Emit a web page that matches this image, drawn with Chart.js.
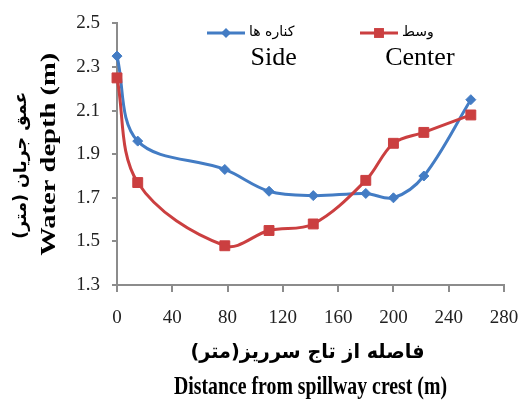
<!DOCTYPE html>
<html lang="fa">
<head>
<meta charset="UTF-8">
<title>عمق جریان</title>
<script src="https://cdn.jsdelivr.net/npm/chart.js"></script>
<style>
  body { margin: 0; background: #fff; }
  #wrap { width: 519px; height: 409px; }
</style>
</head>
<body>
<div id="wrap"><canvas id="depthChart"></canvas></div>
<script>
// فاصله از تاج سرریز (m)
const distance = [0, 15, 78, 110, 142, 180, 200, 222, 256];
// عمق جریان در کناره ها و وسط کانال (m)
const sideDepth = [2.35, 1.96, 1.83, 1.73, 1.71, 1.72, 1.70, 1.80, 2.15];
const centerDepth = [2.25, 1.77, 1.48, 1.55, 1.58, 1.78, 1.95, 2.00, 2.08];

const xTicks = [0, 40, 80, 120, 160, 200, 240, 280];
const yTicks = [1.3, 1.5, 1.7, 1.9, 2.1, 2.3, 2.5];

const seriesFa = ['کناره ها', 'وسط'];
const seriesEn = ['Side', 'Center'];
const xTitle = ['فاصله از تاج سرریز(متر)', 'Distance from spillway crest (m)'];
const yTitle = ['عمق جریان (متر)', 'Water depth (m)'];

const blue = '#437cc4';
const red = '#cb3f40';
const axisGray = '#8c8c8c';
const serif = "'Liberation Serif', 'Times New Roman', serif";
const persian = "'DejaVu Sans', sans-serif";

function toPoints(ys) {
    return distance.map((x, i) => ({ x: x, y: ys[i] }));
}

// draws text centred on (x, y), stretched/squeezed along its own direction to a given length
function drawFitted(ctx, text, x, y, length, angle, rtl) {
    ctx.save();
    ctx.translate(x, y);
    ctx.rotate(angle);
    ctx.direction = rtl ? 'rtl' : 'ltr';
    ctx.textAlign = 'center';
    ctx.textBaseline = 'middle';
    ctx.scale(length / ctx.measureText(text).width, 1);
    ctx.fillText(text, 0, 0);
    ctx.restore();
}

function drawMarker(ctx, style, x, y, r) {
    ctx.beginPath();
    if (style === 'rectRot') {
        ctx.moveTo(x, y - r);
        ctx.lineTo(x + r, y);
        ctx.lineTo(x, y + r);
        ctx.lineTo(x - r, y);
        ctx.closePath();
    } else {
        const s = r * Math.SQRT1_2;
        ctx.rect(x - s, y - s, 2 * s, 2 * s);
    }
    ctx.fill();
}

// عنوان محورها، دو سطر فارسی و انگلیسی
const axisTitles = {
    id: 'axisTitles',
    afterDraw(chart) {
        const ctx = chart.ctx;
        const a = chart.chartArea;
        const cx = (a.left + a.right) / 2;
        const cy = (a.top + a.bottom) / 2;
        ctx.save();
        ctx.fillStyle = '#000';
        ctx.font = 'bold 20px ' + persian;
        drawFitted(ctx, xTitle[0], cx - 3, 353, 234, 0, true);
        ctx.font = 'bold 26px ' + serif;
        drawFitted(ctx, xTitle[1], cx, 387, 273, 0, false);
        ctx.font = 'bold 17px ' + persian;
        drawFitted(ctx, yTitle[0], 22, cy + 11, 147, -Math.PI / 2, true);
        ctx.font = 'bold 22px ' + serif;
        drawFitted(ctx, yTitle[1], 49, cy, 203, -Math.PI / 2, false);
        ctx.restore();
    }
};

// راهنمای سری ها بالای نمودار
const seriesKey = {
    id: 'seriesKey',
    afterDraw(chart) {
        const ctx = chart.ctx;
        const starts = [207, 360];
        const y = 33;
        chart.data.datasets.forEach((ds, i) => {
            const x0 = starts[i];
            const x1 = x0 + 38;
            ctx.save();
            ctx.strokeStyle = ds.borderColor;
            ctx.fillStyle = ds.borderColor;
            ctx.lineWidth = 3;
            ctx.beginPath();
            ctx.moveTo(x0, y);
            ctx.lineTo(x1, y);
            ctx.stroke();
            drawMarker(ctx, ds.pointStyle, (x0 + x1) / 2, y, ds.pointRadius);

            ctx.fillStyle = '#000';
            ctx.font = '14px ' + persian;
            ctx.direction = 'rtl';
            ctx.textAlign = 'center';
            ctx.textBaseline = 'middle';
            const w = ctx.measureText(seriesFa[i]).width;
            const mid = x1 + 4 + w / 2;
            ctx.fillText(seriesFa[i], mid, y - 1);
            ctx.direction = 'ltr';
            ctx.font = '26px ' + serif;
            ctx.fillText(seriesEn[i], mid + 2, y + 25);
            ctx.restore();
        });
    }
};

new Chart(document.getElementById('depthChart'), {
    type: 'line',
    data: {
        datasets: [{
            label: seriesEn[0],
            data: toPoints(sideDepth),
            borderColor: blue,
            backgroundColor: blue,
            borderWidth: 3,
            pointStyle: 'rectRot',
            pointRadius: 5,
            pointBorderWidth: 1,
            tension: 0.35,
            clip: false,
            order: 1
        }, {
            label: seriesEn[1],
            data: toPoints(centerDepth),
            borderColor: red,
            backgroundColor: red,
            borderWidth: 3,
            pointStyle: 'rect',
            pointRadius: 7,
            pointBorderWidth: 1,
            tension: 0.35,
            clip: false,
            order: 0
        }]
    },
    options: {
        responsive: true,
        maintainAspectRatio: false,
        devicePixelRatio: 1,
        animation: false,
        layout: { padding: { top: 19, right: 0, left: 0, bottom: 0 } },
        plugins: {
            legend: { display: false },
            tooltip: { enabled: false }
        },
        scales: {
            x: {
                type: 'linear',
                min: xTicks[0],
                max: xTicks[xTicks.length - 1],
                afterBuildTicks: scale => { scale.ticks = xTicks.map(v => ({ value: v })); },
                afterFit: scale => {
                    scale.height = 124;
                    scale.paddingLeft = 0;
                    scale.paddingRight = 15;
                },
                border: { color: axisGray, width: 2 },
                grid: { drawOnChartArea: false, color: axisGray, lineWidth: 2, tickLength: 7 },
                ticks: {
                    color: '#222',
                    padding: 15,
                    maxRotation: 0,
                    font: { family: serif, size: 19 }
                }
            },
            y: {
                min: yTicks[0],
                max: yTicks[yTicks.length - 1],
                afterBuildTicks: scale => { scale.ticks = yTicks.map(v => ({ value: v })); },
                afterFit: scale => { scale.width = 117; },
                border: { color: axisGray, width: 2 },
                grid: { drawOnChartArea: false, color: axisGray, lineWidth: 2, tickLength: 5 },
                ticks: {
                    color: '#222',
                    padding: 12,
                    font: { family: serif, size: 19 },
                    callback: v => v.toFixed(1)
                }
            }
        }
    },
    plugins: [axisTitles, seriesKey]
});
</script>
</body>
</html>
